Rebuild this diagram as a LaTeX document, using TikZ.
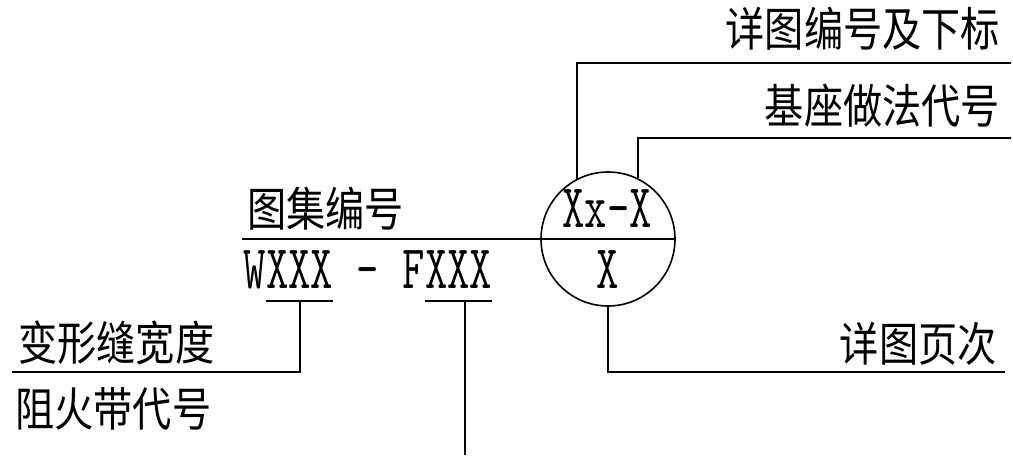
\documentclass[tikz,border=0pt]{standalone}
\usepackage{fontspec}
\newfontfamily\cjk[FakeStretch=0.84]{Noto Sans CJK SC}
\newfontfamily\cad[FakeStretch=0.70]{Latin Modern Mono}
\usetikzlibrary{positioning}

\begin{document}
\begin{tikzpicture}[x=0.75pt,y=-0.75pt]

 \tikzstyle{word}=[inner sep=0pt,font=\cjk\fontsize{35}{35}\selectfont]
 \tikzstyle{code}=[inner xsep=0pt,inner ysep=9.75pt,anchor=base,
font=\cad\fontsize{46.5}{47}\selectfont]
 \tikzstyle{lead}=[line width=1.2pt]
 \tikzstyle{index}=[circle,draw,line width=1.2pt,inner sep=0pt,minimum size=100.5pt]

\useasboundingbox (0,0) rectangle (1013,455);

% Detail index circle
\node[index] (detail) at (608,239) {};
\node[code] (det_no) at (607,227) {Xx–X};
\node[code] (page_no) at (608,288) {X};

% Atlas number
\coordinate (atlas_end) at (242,239);
\draw[lead] (atlas_end) -- (detail.east);
\node[word,anchor=south west] (atlas) at (247,230) {图集编号};

\node[code] (w_num) at (299.7,288) {XXX};
\node[code,anchor=base east] (w_pre) at (w_num.base west) {W};
\node[code] (dash) at (367.8,288) {-};
\node[code,anchor=base west] (f_pre) at (401.9,288) {F};
\node[code,anchor=base west] (f_num) at (f_pre.base east) {XXX};

\draw[lead] (w_num.south west) -- (w_num.south east);
\draw[lead] (f_num.south west) -- (f_num.south east);

% Deformation joint width
\coordinate (width_end) at (12,372);
\draw[lead] (w_num.south) |- (width_end);
\node[word,above right=5pt and 4.5pt of width_end] (width) {变形缝宽度};

% Fire barrier
\coordinate (fire_end) at (465,455);
\draw[lead] (fire_end|-f_num.south) -- (fire_end);
\node[word,anchor=north west] (fire) at (15,387) {阻火带代号};

% Detail number and subscript
\coordinate (sub_end) at (1011,63);
\draw[lead] (detail.117) |- (sub_end);
\node[word,above left=9.75pt and 8pt of sub_end] (sub) {详图编号及下标};

% Base method code
\coordinate (base_end) at (1011,138);
\draw[lead] (detail.64) |- (base_end);
\node[word,above left=8pt and 8pt of base_end] (base) {基座做法代号};

% Detail page
\coordinate (page_end) at (1005,372);
\draw[lead] (detail.south) |- (page_end);
\node[word,above left=5pt and 6pt of page_end] (page) {详图页次};

\end{tikzpicture}
\end{document}
